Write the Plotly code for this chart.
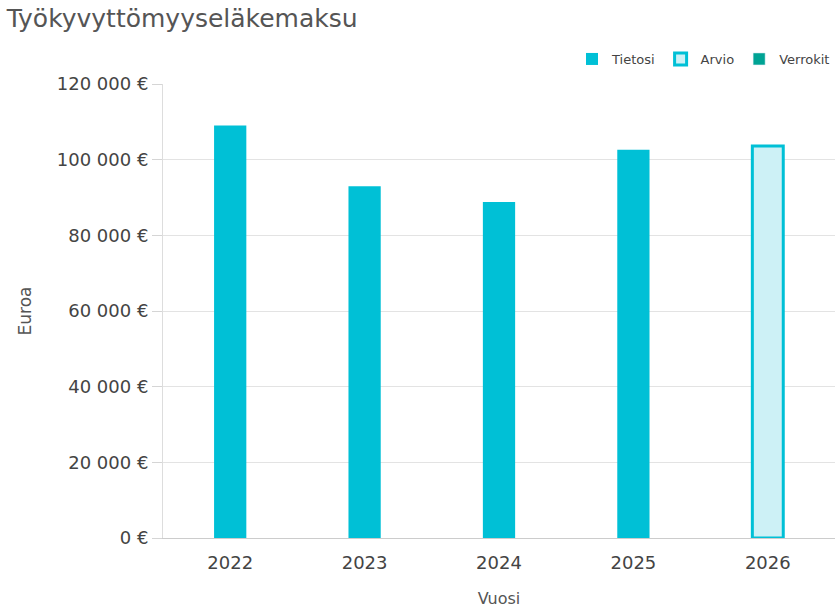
import plotly.graph_objects as go

years = ["2022", "2023", "2024", "2025", "2026"]
tietosi_years = ["2022", "2023", "2024", "2025"]
tietosi_values = [109000, 93000, 88800, 102600]
arvio_years = ["2026"]
arvio_values = [103600]
tick_vals = [0, 20000, 40000, 60000, 80000, 100000, 120000]
tick_text = ["0 €", "20 000 €", "40 000 €", "60 000 €", "80 000 €", "100 000 €", "120 000 €"]

FONT = "DejaVu Sans"

fig = go.Figure()
fig.add_trace(go.Bar(name="Tietosi", x=tietosi_years, y=tietosi_values,
                     marker=dict(color="#00c0d6", line=dict(width=0)), width=0.24))
fig.add_trace(go.Bar(name="Arvio", x=arvio_years, y=arvio_values,
                     marker=dict(color="#cdf1f6", line=dict(color="#00c0d6", width=3)), width=0.23))
fig.add_trace(go.Bar(name="Verrokit", x=[None], y=[None],
                     marker=dict(color="#00a394"), showlegend=True))

fig.update_layout(
    width=835, height=610,
    barmode="overlay",
    plot_bgcolor="white", paper_bgcolor="white",
    margin=dict(l=163, r=0, t=84, b=72, autoexpand=False),
    title=dict(text="Työkyvyttömyyseläkemaksu", x=0.008, xanchor="left", y=0.985, yanchor="top",
               font=dict(family=FONT, size=25, color="#555555")),
    legend=dict(orientation="h", x=1.0, xanchor="right", y=1.022, yanchor="bottom",
                font=dict(family=FONT, size=13, color="#444444"), traceorder="normal",
                itemwidth=30),
    font=dict(family=FONT, color="#444444"),
    xaxis=dict(categoryorder="array", categoryarray=years, type="category",
               range=[-0.5, 4.5],
               title=dict(text="Vuosi", font=dict(size=16, color="#555555"), standoff=21),
               tickfont=dict(size=18, color="#444444"),
               showline=True, linecolor="#cccccc", linewidth=1, showgrid=False,
               ticks="outside", ticklen=8, tickcolor="rgba(0,0,0,0)"),
    yaxis=dict(range=[0, 120000], tickvals=tick_vals, ticktext=tick_text,
               title=dict(text="Euroa", font=dict(size=17, color="#555555"), standoff=20),
               tickfont=dict(size=18, color="#444444"),
               showgrid=True, gridcolor="#e3e3e3", gridwidth=1,
               showline=True, linecolor="#dddddd", linewidth=1,
               ticks="outside", ticklen=10, tickcolor="#d5d5d5", zeroline=False),
)

fig.write_html("out.html", config={"displayModeBar": False},
               post_script="document.body.style.margin='0';document.body.style.padding='0';")
